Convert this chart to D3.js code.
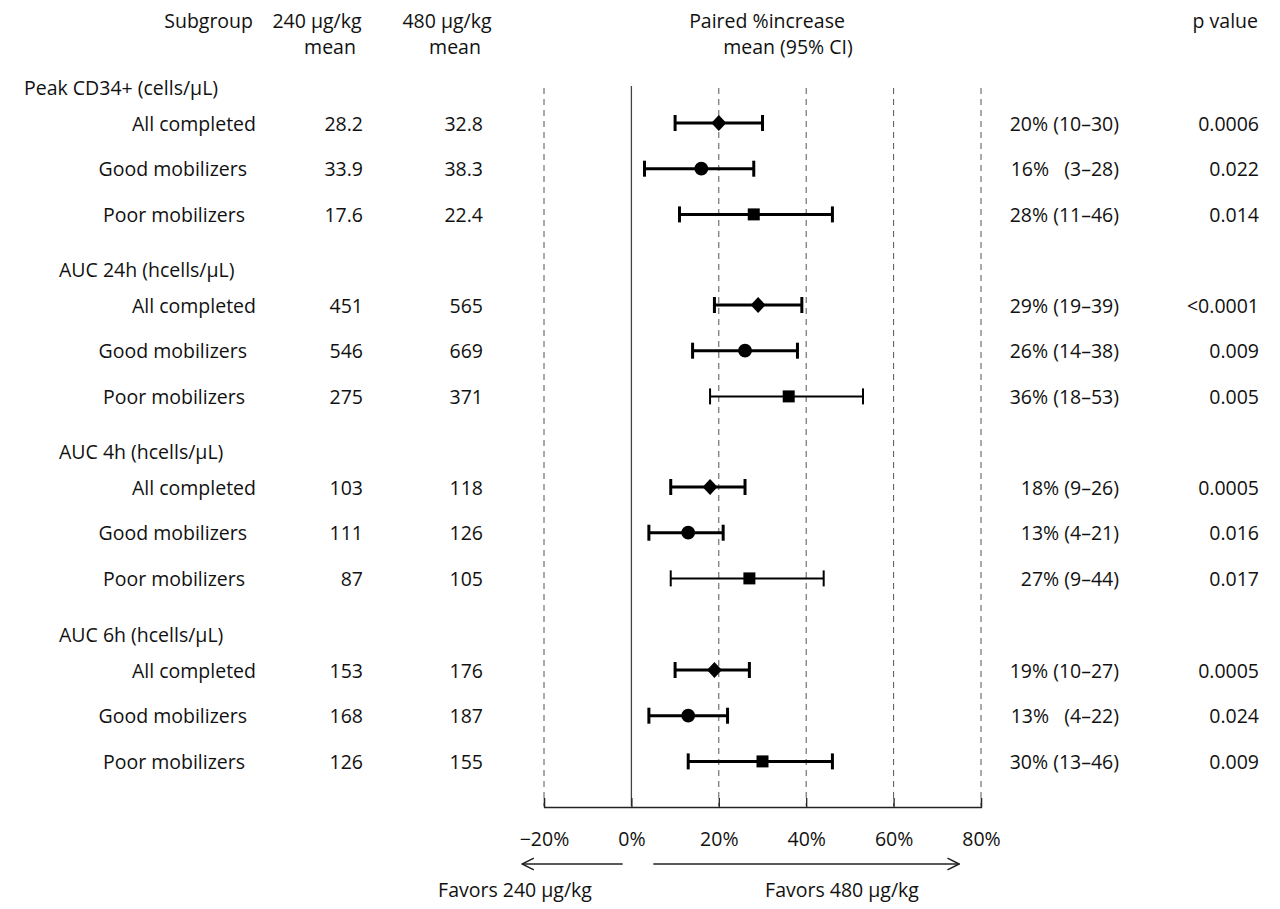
<!DOCTYPE html>
<html>
<head>
<meta charset="utf-8">
<script src="https://cdnjs.cloudflare.com/ajax/libs/d3/7.8.5/d3.min.js"></script>
<style>
  body { margin: 0; background: #fff; }
  svg text { font-family: "Open Sans", "Noto Sans", sans-serif; font-size: 19.5px; fill: #111; white-space: pre; }
</style>
</head>
<body>
<svg id="chart" width="1280" height="909"></svg>
<script>
// data
const groups = ['Peak CD34+ (cells/μL)', 'AUC 24h (hcells/μL)', 'AUC 4h (hcells/μL)', 'AUC 6h (hcells/μL)'];
const subgroups = ['All completed', 'Good mobilizers', 'Poor mobilizers'];
const mean240 = ['28.2', '33.9', '17.6', '451', '546', '275', '103', '111', '87', '153', '168', '126'];
const mean480 = ['32.8', '38.3', '22.4', '565', '669', '371', '118', '126', '105', '176', '187', '155'];
const est = [20, 16, 28, 29, 26, 36, 18, 13, 27, 19, 13, 30];
const lo = [10, 3, 11, 19, 14, 18, 9, 4, 9, 10, 4, 13];
const hi = [30, 28, 46, 39, 38, 53, 26, 21, 44, 27, 22, 46];
const ciText = ['20% (10–30)', '16%   (3–28)', '28% (11–46)', '29% (19–39)', '26% (14–38)', '36% (18–53)',
  '18% (9–26)', '13% (4–21)', '27% (9–44)', '19% (10–27)', '13%   (4–22)', '30% (13–46)'];
const pvals = ['0.0006', '0.022', '0.014', '<0.0001', '0.009', '0.005', '0.0005', '0.016', '0.017', '0.0005', '0.024', '0.009'];
const ticks = [-20, 0, 20, 40, 60, 80];

// layout bits
const labelRight = [256, 247, 245];           // subgroup label right edges
const lineW = [3, 3, 3, 3, 3, 2, 3, 3, 2, 3, 3, 3];

const svg = d3.select('#chart');
const x = d3.scaleLinear().domain([-20, 80]).range([544, 981]);

const groupTop = [87, 269, 451, 634];
const rowY = i => groupTop[Math.floor(i / 3)] + 36 + (i % 3) * 45.7;

// column headers
const head = svg.append('g');
const hdr = (t, xx, yy, anchor) => head.append('text').attr('x', xx).attr('y', yy)
  .attr('text-anchor', anchor).attr('dominant-baseline', 'central').text(t);
hdr('Subgroup', 253, 20, 'end');
hdr('240 μg/kg', 317, 20, 'middle');
hdr('mean', 330, 46, 'middle');
hdr('480 μg/kg', 447, 20, 'middle');
hdr('mean', 455, 46, 'middle');
hdr('Paired %increase', 767, 20, 'middle');
hdr('mean (95% CI)', 788, 46, 'middle');
hdr('p value', 1258, 20, 'end');

// group labels
svg.selectAll('.grp').data(groups).enter().append('text')
  .attr('class', 'grp')
  .attr('x', (d, i) => i === 0 ? 24 : 59)
  .attr('y', (d, i) => groupTop[i])
  .attr('dominant-baseline', 'central')
  .text(d => d);

// grid lines
const gridTop = 86, gridBottom = 806;
svg.selectAll('.grid').data(ticks.filter(t => t !== 0)).enter().append('line')
  .attr('x1', d => x(d)).attr('x2', d => x(d))
  .attr('y1', gridTop + 2).attr('y2', gridBottom)
  .attr('stroke', '#555').attr('stroke-width', 1).attr('stroke-dasharray', '6,5');
svg.append('line').attr('x1', x(0)).attr('x2', x(0)).attr('y1', gridTop).attr('y2', gridBottom)
  .attr('stroke', '#444').attr('stroke-width', 1.3);

// axis
const axis = d3.axisBottom(x).tickValues(ticks).tickSize(-9).tickPadding(25)
  .tickFormat(d => (d < 0 ? '\u2212' + Math.abs(d) : d) + '%');
const ax = svg.append('g').attr('transform', 'translate(0,807)').call(axis);
ax.select('.domain').attr('stroke', '#222').attr('stroke-width', 1.3);
ax.selectAll('.tick line').attr('stroke', '#222').attr('stroke-width', 1.3);
ax.selectAll('.tick text').style('font-size', '19.5px').style('font-family', '"Open Sans", "Noto Sans", sans-serif').attr('fill', '#111');

// favors arrows
const defs = svg.append('defs');
defs.append('marker').attr('id', 'arr').attr('viewBox', '0 0 12 12').attr('refX', 11).attr('refY', 6)
  .attr('markerWidth', 14).attr('markerHeight', 14).attr('markerUnits', 'userSpaceOnUse').attr('orient', 'auto')
  .append('path').attr('d', 'M1,1 L11,6 L1,11').attr('fill', 'none').attr('stroke', '#222').attr('stroke-width', 1.3);
svg.append('line').attr('x1', x(-2)).attr('x2', x(-25)).attr('y1', 864).attr('y2', 864)
  .attr('stroke', '#222').attr('stroke-width', 1.3).attr('marker-end', 'url(#arr)');
svg.append('line').attr('x1', x(5)).attr('x2', x(75)).attr('y1', 864).attr('y2', 864)
  .attr('stroke', '#222').attr('stroke-width', 1.3).attr('marker-end', 'url(#arr)');
svg.append('text').attr('x', 515).attr('y', 889).attr('text-anchor', 'middle').attr('dominant-baseline', 'central').text('Favors 240 μg/kg');
svg.append('text').attr('x', 842).attr('y', 889).attr('text-anchor', 'middle').attr('dominant-baseline', 'central').text('Favors 480 μg/kg');

// rows
const rows = svg.selectAll('.row').data(est).enter().append('g')
  .attr('class', 'row')
  .attr('transform', (d, i) => `translate(0,${rowY(i)})`);

rows.append('text').attr('x', (d, i) => labelRight[i % 3]).attr('text-anchor', 'end').attr('dominant-baseline', 'central')
  .text((d, i) => subgroups[i % 3]);
rows.append('text').attr('x', 363).attr('text-anchor', 'end').attr('dominant-baseline', 'central')
  .text((d, i) => mean240[i]);
rows.append('text').attr('x', 483).attr('text-anchor', 'end').attr('dominant-baseline', 'central')
  .text((d, i) => mean480[i]);
rows.append('text').attr('x', 1119).attr('text-anchor', 'end').attr('dominant-baseline', 'central')
  .text((d, i) => ciText[i]);
rows.append('text').attr('x', 1259).attr('text-anchor', 'end').attr('dominant-baseline', 'central')
  .text((d, i) => pvals[i]);

// CI whiskers
rows.append('line').attr('x1', (d, i) => x(lo[i])).attr('x2', (d, i) => x(hi[i]))
  .attr('stroke', '#000').attr('stroke-width', (d, i) => lineW[i]);
rows.append('line').attr('x1', (d, i) => x(lo[i])).attr('x2', (d, i) => x(lo[i]))
  .attr('y1', -8).attr('y2', 8).attr('stroke', '#000').attr('stroke-width', (d, i) => lineW[i]);
rows.append('line').attr('x1', (d, i) => x(hi[i])).attr('x2', (d, i) => x(hi[i]))
  .attr('y1', -8).attr('y2', 8).attr('stroke', '#000').attr('stroke-width', (d, i) => lineW[i]);

// point markers: diamond / circle / square
const marker = k => {
  if (k === 0) return 'M0,-8L7.5,0L0,8L-7.5,0Z';
  if (k === 1) return d3.symbol().type(d3.symbolCircle).size(150)();
  return d3.symbol().type(d3.symbolSquare).size(144)();
};
rows.append('path')
  .attr('transform', d => `translate(${x(d)},0)`)
  .attr('d', (d, i) => marker(i % 3))
  .attr('fill', '#000');
</script>
</body>
</html>
